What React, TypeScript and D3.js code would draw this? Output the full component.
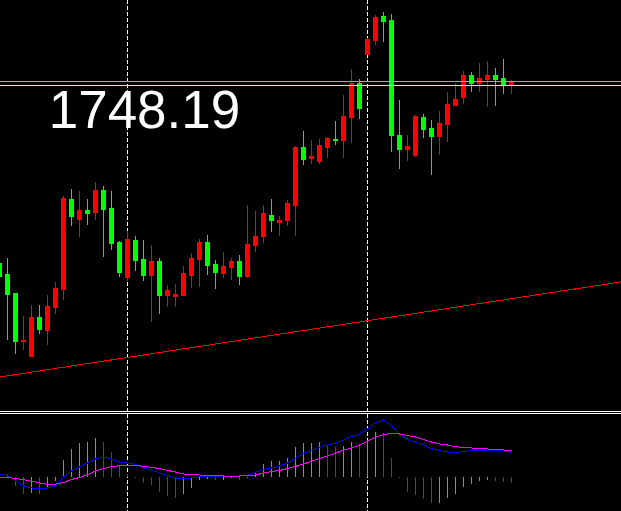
import React from 'react';
import * as d3 from 'd3';

const W = 621;
const H = 511;

// ---------- price data (per bar) ----------
const opens = [
  1710.0, 1706.4, 1697.0, 1697.2, 1701.8, 1699.4, 1704.0, 1707.6, 1725.6, 1722.0,
  1723.2, 1722.6, 1727.2, 1723.4, 1716.6, 1710.8, 1717.4, 1713.2, 1710.2, 1713.0,
  1706.2, 1707.2, 1706.4, 1710.6, 1713.6, 1716.8, 1712.2, 1710.8, 1712.0, 1713.0,
  1710.0, 1716.4, 1718.0, 1722.6, 1721.2, 1721.2, 1724.6, 1735.8, 1733.4, 1734.0,
  1736.2, 1737.6, 1737.2, 1742.0, 1748.6, 1743.6, 1757.4, 1761.8, 1761.0, 1738.2,
  1735.4, 1736.0, 1742.0, 1739.4, 1738.0, 1740.6, 1744.4, 1745.4, 1750.2, 1748.6,
  1749.6, 1750.2, 1749.4, 1748.2, 1749.0,
];
const highs = [
  1714.2, 1713.6, 1706.6, 1702.0, 1704.2, 1704.2, 1706.2, 1708.8, 1726.0, 1727.4,
  1727.0, 1725.4, 1728.8, 1728.0, 1727.0, 1717.0, 1719.0, 1718.0, 1717.2, 1716.2,
  1713.6, 1708.2, 1708.4, 1712.0, 1714.6, 1717.4, 1718.2, 1713.2, 1714.8, 1713.6,
  1714.2, 1724.2, 1723.0, 1724.2, 1725.4, 1722.0, 1725.2, 1736.0, 1739.0, 1737.2,
  1737.4, 1737.8, 1741.0, 1746.2, 1751.4, 1749.4, 1757.6, 1762.2, 1762.8, 1762.4,
  1745.2, 1738.2, 1742.2, 1742.4, 1741.2, 1743.0, 1746.8, 1748.6, 1751.0, 1750.8,
  1752.6, 1753.0, 1751.6, 1753.4, 1749.2,
];
const lows = [
  1709.2, 1697.4, 1694.6, 1695.4, 1694.0, 1698.6, 1696.4, 1702.6, 1705.4, 1720.2,
  1718.0, 1720.4, 1721.4, 1714.0, 1715.4, 1710.0, 1709.2, 1711.2, 1709.2, 1701.0,
  1702.6, 1704.0, 1704.0, 1706.2, 1707.8, 1708.0, 1710.4, 1707.6, 1709.8, 1709.4,
  1708.4, 1709.8, 1715.0, 1716.8, 1719.0, 1718.2, 1720.2, 1718.2, 1732.4, 1732.6,
  1732.6, 1733.8, 1736.4, 1733.8, 1736.8, 1741.6, 1754.4, 1756.4, 1757.0, 1735.0,
  1731.6, 1733.2, 1734.0, 1737.8, 1730.4, 1734.4, 1737.0, 1744.2, 1744.6, 1747.0,
  1747.0, 1744.0, 1744.2, 1746.6, 1746.6,
];
const closes = [
  1712.6, 1710.4, 1706.6, 1697.0, 1694.0, 1701.8, 1699.2, 1703.8, 1707.4, 1725.4,
  1721.4, 1723.2, 1722.8, 1727.2, 1723.6, 1716.8, 1709.8, 1717.2, 1713.4, 1710.2,
  1713.0, 1706.2, 1706.0, 1706.2, 1710.2, 1713.4, 1716.8, 1712.4, 1710.6, 1711.8,
  1713.0, 1710.0, 1716.2, 1718.0, 1722.2, 1720.8, 1721.2, 1724.2, 1735.8, 1733.6,
  1733.0, 1735.8, 1737.4, 1737.2, 1741.8, 1748.6, 1754.4, 1757.2, 1762.0, 1761.2,
  1738.2, 1735.4, 1734.2, 1741.8, 1739.6, 1738.0, 1740.4, 1744.2, 1745.8, 1750.2,
  1748.6, 1749.4, 1750.2, 1749.6, 1748.19,
];

// ---------- indicator data (per bar) ----------
const histValues = [
  0.5, 0.3, -0.9, -1.7, -1.6, -1.7, -1.0, -0.4, 1.7, 2.8,
  3.4, 3.5, 3.9, 3.5, 2.5, 1.2, 0.3, -0.1, -0.6, -0.8,
  -1.5, -1.9, -2.1, -1.7, -1.1, -0.3, -0.2, -0.3, -0.25, -0.1,
  -0.3, -0.05, 0.6, 1.3, 1.6, 1.65, 1.9, 3.0, 3.4, 3.45,
  3.5, 3.3, 3.0, 3.1, 3.5, 3.1, 3.7, 4.5, 4.45, 1.9,
  -0.1, -1.5, -1.8, -2.2, -2.6, -2.55, -2.1, -1.7, -1.0, -0.7,
  -0.4, -0.3, -0.35, -0.5, -0.6,
];
const mainLine = [
  0.25, 0.15, -0.35, -0.9, -1.1, -1.13, -1.1, -0.9, 0.0, 0.6,
  1.0, 1.4, 1.8, 1.97, 1.8, 1.5, 1.4, 1.25, 0.93, 0.7,
  0.4, 0.15, -0.1, -0.2, -0.1, 0.05, 0.1, 0.1, 0.1, 0.1,
  0.1, 0.17, 0.5, 0.75, 0.9, 1.1, 1.4, 1.85, 2.37, 2.67,
  2.95, 3.2, 3.4, 3.7, 4.05, 4.25, 4.8, 5.4, 5.7, 5.1,
  4.25, 3.75, 3.5, 3.2, 2.85, 2.65, 2.5, 2.47, 2.53, 2.67,
  2.7, 2.7, 2.67, 2.6, 2.47,
];
const signalLine = [
  -0.03, -0.05, -0.15, -0.27, -0.43, -0.6, -0.73, -0.72, -0.55, -0.25,
  -0.05, 0.25, 0.6, 0.85, 1.03, 1.13, 1.17, 1.15, 1.07, 0.97,
  0.83, 0.67, 0.48, 0.3, 0.22, 0.2, 0.17, 0.13, 0.1, 0.1,
  0.1, 0.12, 0.2, 0.4, 0.55, 0.65, 0.85, 1.07, 1.3, 1.57,
  1.85, 2.12, 2.4, 2.67, 2.92, 3.2, 3.55, 4.0, 4.25, 4.37,
  4.3, 4.15, 4.0, 3.75, 3.5, 3.3, 3.2, 3.03, 2.95, 2.9,
  2.87, 2.8, 2.75, 2.7, 2.63,
];

// ---------- annotations ----------
const bidPrice = 1748.19;
const askPrice = 1748.99;
const priceLabel = '1748.19';
const trendBars = [0, 64];
const trendPrices = [1689.8, 1705.47];
const markerBars = [16, 46];

const UP = '#00FF00';
const DOWN = '#FF0000';
const HIST_UP = '#32CD32';
const HIST_DOWN = '#FF0000';

export default function App() {
  const x = d3.scaleLinear().domain([0, 1]).range([-0.5, 7.5]);
  const y = d3.scaleLinear().domain([1683.2, 1765.2]).range([410, 0]);
  const yi = d3.scaleLinear().domain([-3.4, 6.3]).range([511, 414]);

  const slope = (trendPrices[1] - trendPrices[0]) / (trendBars[1] - trendBars[0]);
  const bL = x.invert(0);
  const bR = x.invert(W);
  const tY0 = y(trendPrices[0] + slope * (bL - trendBars[0]));
  const tY1 = y(trendPrices[0] + slope * (bR - trendBars[0]));

  const lineGen = d3
    .line<number>()
    .x((_, i) => x(i))
    .y((v) => yi(v));

  return (
    <div style={{ position: 'fixed', left: 0, top: 0, width: W, height: H }}>
      <svg width={W} height={H} style={{ display: 'block', background: '#000' }}>
        <defs>
          <clipPath id="mainClip">
            <rect x={0} y={0} width={W} height={410} />
          </clipPath>
          <clipPath id="subClip">
            <rect x={0} y={415} width={W} height={H - 415} />
          </clipPath>
        </defs>
        <rect x={0} y={0} width={W} height={H} fill="#000" />

        {/* vertical dashed markers */}
        {markerBars.map((b) => (
          <line
            key={'m' + b}
            x1={x(b)}
            x2={x(b)}
            y1={0}
            y2={H}
            stroke="#fff"
            strokeWidth={1}
            strokeDasharray="4,2"
            shapeRendering="crispEdges"
          />
        ))}

        {/* main panel */}
        <g clipPath="url(#mainClip)">
          <line x1={0} x2={W} y1={tY0} y2={tY1} stroke="#FF0000" strokeWidth={1} shapeRendering="crispEdges" />
          {opens.map((o, i) => {
            const c = closes[i];
            const col = c >= o ? UP : DOWN;
            const top = y(Math.max(o, c));
            const bot = y(Math.min(o, c));
            return (
              <g key={'c' + i} shapeRendering="crispEdges">
                <line x1={x(i)} x2={x(i)} y1={y(highs[i])} y2={y(lows[i]) + 1} stroke={col} strokeWidth={1} />
                <rect x={x(i) - 2.5} y={top} width={5} height={Math.max(1, bot - top + 1)} fill={col} />
              </g>
            );
          })}
          <line x1={0} x2={W} y1={y(askPrice)} y2={y(askPrice)} stroke="#A0A4AA" strokeWidth={1} shapeRendering="crispEdges" />
          <line x1={0} x2={W} y1={y(bidPrice)} y2={y(bidPrice)} stroke="#FFFF00" strokeWidth={1} shapeRendering="crispEdges" />
        </g>

        <text
          x={48.7}
          y={128}
          fill="#fff"
          fontFamily="'Liberation Sans', Arial, sans-serif"
          fontSize={53}
        >
          {priceLabel}
        </text>

        {/* separator */}
        <line x1={0} x2={W} y1={411.5} y2={411.5} stroke="#fff" strokeWidth={1} shapeRendering="crispEdges" />
        <line x1={0} x2={W} y1={413.5} y2={413.5} stroke="#fff" strokeWidth={1} shapeRendering="crispEdges" />

        {/* indicator panel */}
        <g clipPath="url(#subClip)">
          {histValues.map((v, i) => {
            const prev = i > 0 ? histValues[i - 1] : v;
            const col = v >= prev ? HIST_UP : HIST_DOWN;
            return (
              <line
                key={'h' + i}
                x1={x(i)}
                x2={x(i)}
                y1={yi(0)}
                y2={yi(v)}
                stroke={col}
                strokeWidth={1}
                shapeRendering="crispEdges"
              />
            );
          })}
          <path d={lineGen(mainLine) || ''} fill="none" stroke="#0000FF" strokeWidth={1} shapeRendering="crispEdges" />
          <path d={lineGen(signalLine) || ''} fill="none" stroke="#FF00FF" strokeWidth={1} shapeRendering="crispEdges" />
        </g>
      </svg>
    </div>
  );
}
